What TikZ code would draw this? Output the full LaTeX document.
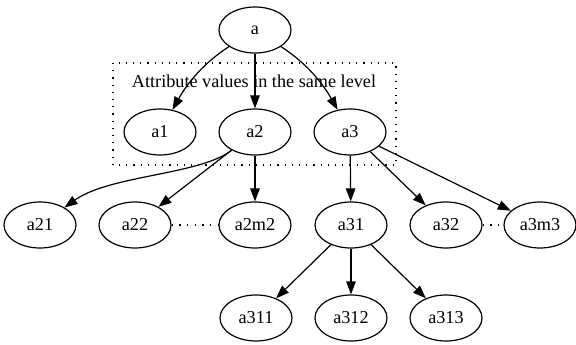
\documentclass[tikz,border=0pt]{standalone}
\usepackage{fontspec}
\setmainfont{Liberation Serif}
\usetikzlibrary{arrows.meta,shapes.geometric}
\begin{document}
\begin{tikzpicture}[x=1pt,y=-1pt,
  every node/.style={font=\fontsize{18.2}{22}\selectfont},
  vnode/.style={draw,ellipse,line width=1.2pt,minimum width=72pt,minimum height=46pt,inner sep=0pt},
  edge/.style={line width=1.2pt,-{Triangle[length=13pt,width=9.5pt]}},
  sibling/.style={line width=1.2pt,dash pattern=on 1.2pt off 6.5pt},
  group/.style={line width=1.2pt,dash pattern=on 1.2pt off 6pt}]
\useasboundingbox (0,0) rectangle (576,345);

% cluster of first-level attribute values
\draw[group] (113,63) rectangle (396,165);
\node (lbl) at (254,81) {Attribute values in the same level};

% nodes
\node[vnode] (a)    at (255,30)  {a};
\node[vnode] (a1)   at (160,132) {a1};
\node[vnode] (a2)   at (255,132) {a2};
\node[vnode] (a3)   at (350,132) {a3};
\node[vnode] (a21)  at (40,225)  {a21};
\node[vnode] (a22)  at (135,225) {a22};
\node[vnode] (a2m2) at (255,225) {a2m2};
\node[vnode] (a31)  at (351,225) {a31};
\node[vnode] (a32)  at (446,225) {a32};
\node[vnode] (a3m3) at (540,225) {a3m3};
\node[vnode] (a311) at (256,318) {a311};
\node[vnode] (a312) at (351,318) {a312};
\node[vnode] (a313) at (446,318) {a313};

% edges
\draw[edge] (a) .. controls (205,62) and (188,82) .. (a1);
\draw[edge] (a) -- (a2);
\draw[edge] (a) .. controls (305,62) and (322,82) .. (a3);
\draw[edge] (a2) .. controls (200,175) and (110,175) .. (a21);
\draw[edge] (a2) -- (a22);
\draw[edge] (a2) -- (a2m2);
\draw[edge] (a3) -- (a31);
\draw[edge] (a3) -- (a32);
\draw[edge] (a3) -- (a3m3);
\draw[edge] (a31) -- (a311);
\draw[edge] (a31) -- (a312);
\draw[edge] (a31) -- (a313);

% omitted siblings
\draw[sibling] (a22) -- (a2m2);
\draw[sibling] (a32) -- (a3m3);
\end{tikzpicture}
\end{document}
